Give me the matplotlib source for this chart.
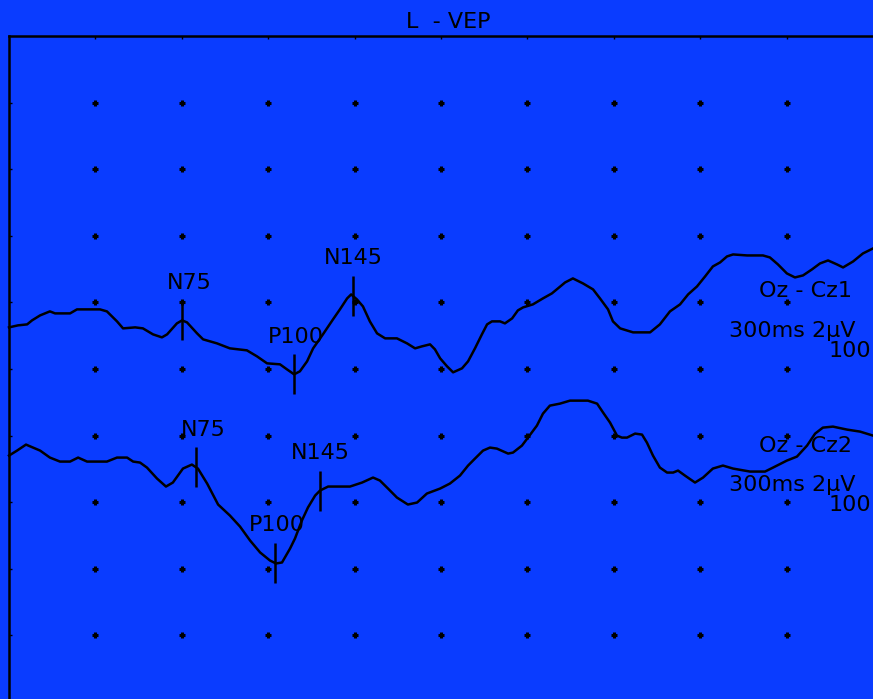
import numpy as np
import matplotlib
matplotlib.use("Agg")
from matplotlib import pyplot as plt

# VEP recording, left eye. Sweep 300 ms (30 ms/div), 2 uV/div, negative up.
title = "L  - VEP"

# channel 1 (Oz - Cz1): time in ms, amplitude in uV
ch1_t = [0.0, 3.1, 6.3, 8.0, 10.8, 14.2, 16.0, 21.2, 23.6, 31.6, 34.0, 37.5, 39.6,
         43.8, 46.5, 50.0, 53.1, 54.9, 58.3, 60.1, 61.8, 65.3, 67.4, 72.2, 76.7,
         82.6, 86.1, 89.6, 94.1, 96.5, 99.0, 101.0, 103.5, 105.6, 109.0, 112.5,
         114.9, 117.4, 118.8, 120.8, 122.9, 125.3, 127.8, 130.6, 134.7, 138.2,
         141.0, 143.4, 146.2, 147.9, 149.7, 152.1, 154.2, 157.3, 159.4, 161.8,
         164.2, 166.0, 167.7, 170.5, 172.2, 174.7, 176.7, 178.5, 181.9, 185.4,
         188.5, 190.6, 193.1, 195.8, 199.3, 202.8, 205.2, 208.0, 209.7, 212.2,
         216.7, 222.6, 226.0, 229.5, 233.0, 235.8, 238.9, 241.7, 244.4, 246.9,
         249.3, 251.4, 256.3, 261.8, 264.2, 267.0, 270.1, 272.9, 275.7, 278.8,
         281.6, 284.4, 287.5, 289.6, 293.1, 296.5, 300.0]
ch1_uv = [0.75, 0.69, 0.66, 0.54, 0.39, 0.27, 0.33, 0.33, 0.21, 0.21, 0.27, 0.57, 0.78,
          0.75, 0.78, 0.96, 1.05, 0.96, 0.63, 0.54, 0.60, 0.93, 1.11, 1.23, 1.38,
          1.44, 1.62, 1.83, 1.86, 2.01, 2.16, 2.07, 1.77, 1.38, 0.96, 0.51,
          0.21, -0.12, -0.24, -0.09, 0.12, 0.57, 0.93, 1.08, 1.08, 1.23,
          1.38, 1.32, 1.26, 1.41, 1.68, 1.92, 2.10, 1.98, 1.77, 1.38,
          0.96, 0.66, 0.57, 0.57, 0.63, 0.48, 0.24, 0.15, 0.06, -0.12,
          -0.27, -0.42, -0.60, -0.72, -0.57, -0.39, -0.12, 0.21, 0.57, 0.78,
          0.90, 0.90, 0.66, 0.27, 0.06, -0.24, -0.48, -0.78, -1.08, -1.20,
          -1.38, -1.44, -1.41, -1.41, -1.35, -1.14, -0.87, -0.75, -0.81, -0.99,
          -1.17, -1.26, -1.14, -1.05, -1.23, -1.47, -1.62]

# channel 2 (Oz - Cz2)
ch2_t = [0.0, 2.8, 5.9, 10.8, 14.2, 17.7, 21.2, 24.0, 27.1, 34.0, 37.5, 41.0, 43.1,
         45.5, 47.9, 51.4, 54.5, 56.9, 60.4, 63.5, 65.6, 68.8, 72.6, 76.7, 80.2,
         83.7, 87.2, 90.6, 92.7, 94.8, 97.6, 99.3, 101.7, 103.8, 106.3, 108.0,
         110.8, 118.4, 122.6, 126.4, 128.8, 131.6, 134.7, 138.5, 141.7, 145.1,
         149.7, 153.1, 156.6, 159.4, 161.8, 164.6, 167.0, 169.4, 173.3, 175.0,
         178.1, 180.2, 183.3, 185.4, 187.8, 191.3, 194.8, 201.0, 204.2, 206.3,
         208.7, 211.1, 212.8, 214.6, 217.4, 219.8, 221.5, 223.6, 226.0, 228.5,
         230.6, 232.3, 234.7, 238.2, 241.0, 244.4, 247.9, 251.4, 257.3, 262.5,
         265.3, 270.1, 273.6, 277.1, 279.9, 282.6, 286.1, 291.0, 295.5, 300.0]
ch2_uv = [0.60, 0.45, 0.27, 0.45, 0.66, 0.78, 0.78, 0.66, 0.78, 0.78, 0.66, 0.66, 0.78,
          0.81, 0.96, 1.29, 1.53, 1.41, 0.99, 0.87, 0.99, 1.44, 2.07, 2.40, 2.73,
          3.15, 3.51, 3.75, 3.84, 3.81, 3.39, 3.09, 2.55, 2.16, 1.80, 1.65,
          1.53, 1.53, 1.41, 1.26, 1.35, 1.59, 1.86, 2.07, 2.01, 1.74,
          1.59, 1.44, 1.20, 0.90, 0.69, 0.45, 0.36, 0.39, 0.54, 0.51,
          0.30, 0.06, -0.30, -0.66, -0.90, -0.96, -1.05, -1.05, -0.96, -0.69,
          -0.39, 0.00, 0.06, 0.06, -0.06, -0.03, 0.21, 0.60, 0.96, 1.11,
          1.11, 1.05, 1.20, 1.41, 1.26, 0.99, 0.90, 0.99, 1.08, 1.08,
          0.96, 0.75, 0.63, 0.30, -0.06, -0.24, -0.27, -0.18, -0.12, 0.00]

# peak markers, latency in ms
peak_names = ["N75", "P100", "N145"]
ch1_lat = [60.1, 99.0, 119.4]
ch2_lat = [64.9, 92.4, 108.0]

channel_names = ["Oz - Cz1", "Oz - Cz2"]
channel_offsets = [8, 12]
scale_text = "300ms 2\u00b5V"
extra_text = "100"

bg = "#0a3cff"
font = "DejaVu Sans"
fs = 16

fig = plt.figure(figsize=(8.73, 6.99), dpi=100, facecolor=bg)
ax = fig.add_axes([9 / 873, -3 / 699, 864 / 873, 666 / 699], facecolor=bg)
ax.set_xlim(0, 300)
ax.set_ylim(20, 0)

# frame: only top and left edges, small ticks pointing in
for side in ["right", "bottom"]:
    ax.spines[side].set_visible(False)
for side in ["top", "left"]:
    ax.spines[side].set_linewidth(1.8)
    ax.spines[side].set_color("black")
ax.xaxis.tick_top()
ax.set_xticks(np.arange(30, 300, 30))
ax.set_yticks(np.arange(2, 20, 2))
ax.tick_params(direction="in", length=2, width=1, color="black",
               labeltop=False, labelleft=False, labelbottom=False)

# dot grid
gx, gy = np.meshgrid(np.arange(30, 300, 30), np.arange(2, 20, 2))
ax.plot(gx.ravel(), gy.ravel(), linestyle="none", marker="+", ms=5, mew=2.2,
        color="black", clip_on=False)

channels = [(ch1_t, ch1_uv, ch1_lat), (ch2_t, ch2_uv, ch2_lat)]
for (t, uv, lat), off in zip(channels, channel_offsets):
    y = off + np.array(uv)
    ax.plot(t, y, color="black", lw=1.8, clip_on=False)
    for name, l in zip(peak_names, lat):
        yp = off + np.interp(l, t, uv)
        ax.vlines(l, yp - 0.6, yp + 0.6, color="black", lw=1.8)
        ax.text(l + 10.4, yp - 0.95, name, ha="right", va="baseline",
                fontsize=fs, family=font, color="black")

# channel labels at the right edge
name_y = [7.84, 12.49]
scale_y = [9.04, 13.66]
extra_y = [9.64, 14.26]
for i, name in enumerate(channel_names):
    ax.text(260.4, name_y[i], name, ha="left", va="baseline", fontsize=fs,
            family=font, color="black", clip_on=False)
    ax.text(250.0, scale_y[i], scale_text, ha="left", va="baseline", fontsize=fs,
            family=font, color="black", clip_on=False)
    ax.text(284.7, extra_y[i], extra_text, ha="left", va="baseline", fontsize=fs,
            family=font, color="black", clip_on=False)

fig.text(448 / 873, 1 - 28 / 699, title, ha="center", va="baseline",
         fontsize=fs, family=font, color="black")

fig.savefig("out.png", dpi=100, facecolor=bg)
